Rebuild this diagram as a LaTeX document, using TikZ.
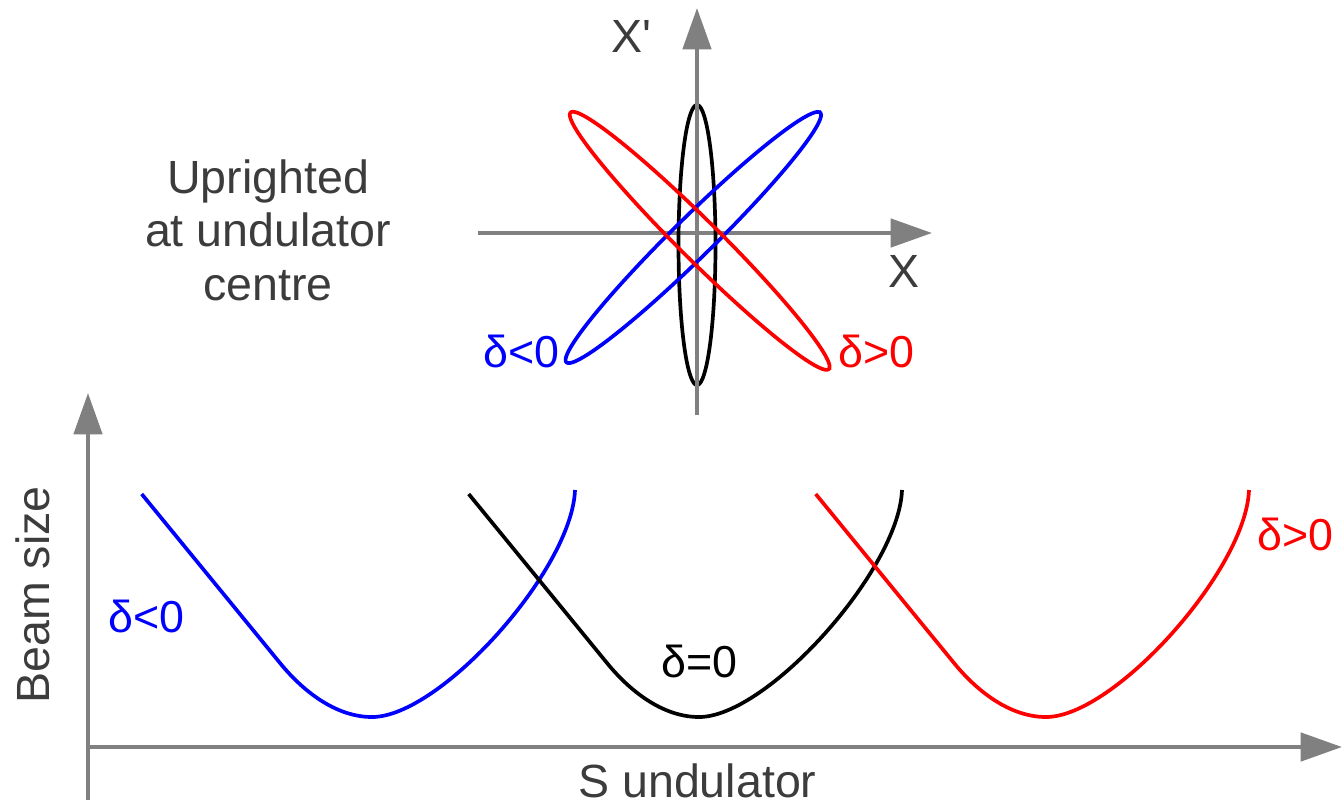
\documentclass[tikz,border=0pt]{standalone}
\usepackage{fontspec}
\setmainfont{Liberation Sans}
\usetikzlibrary{arrows.meta}
\definecolor{AxisGray}{HTML}{808080}
\definecolor{TextGray}{HTML}{3C3C3C}
\definecolor{DeltaBlue}{HTML}{0000FF}
\definecolor{DeltaRed}{HTML}{FF0000}
\tikzset{
  axisline/.style={AxisGray, line width=2.4pt, -{Triangle[length=23.5pt,width=16pt]}},
  curveline/.style={line width=2.1pt},
  lbl/.style={inner sep=0pt, text=TextGray, font=\fontsize{26.5}{30.6}\selectfont},
  dlbl/.style={inner sep=0pt, font=\fontsize{25.5}{28}\selectfont},
}
\begin{document}
\begin{tikzpicture}[x=0.02cm,y=-0.02cm]
\useasboundingbox (0,0) rectangle (1342,809);
% phase space at the undulator centre
\draw[axisline] (478,233) -- (932,233);
\draw[curveline, black] plot[domain=0:360, samples=200] ({697+18.5*cos(\x)}, {245+140*sin(\x)}) -- cycle;
\draw[axisline] (697,415) -- (697,8);
\foreach \cx/\cy/\ra/\ang/\col in {693.3/237.5/178/-44.5/DeltaBlue, 699.7/240.8/182/44.8/DeltaRed}
  \draw[curveline, \col] plot[domain=0:360, samples=240]
    ({\cx+\ra*cos(\x)*cos(\ang)-20*sin(\x)*sin(\ang)}, {\cy+\ra*cos(\x)*sin(\ang)+20*sin(\x)*cos(\ang)}) -- cycle;
\node[lbl, anchor=base west] (xp) at (611,52) {X\textquotesingle};
\node[lbl, anchor=base west] (xx) at (888,287) {X};
\node[lbl, anchor=north, align=center] (upr) at (268,159) {Uprighted\\at undulator\\centre};
\node[dlbl, anchor=base west, text=DeltaBlue] (dneg) at (483,367) {δ<0};
\node[dlbl, anchor=base west, text=DeltaRed] (dpos) at (838,367) {δ>0};
% beam size along the undulator
\draw[axisline] (88,800) -- (88,393);
\draw[axisline] (90,747) -- (1342,747);
\foreach \dx/\col in {0/DeltaBlue, 327/black, 674/DeltaRed}
  \draw[curveline, \col, shift={(\dx,0)}] (141.7,494) -- (280,663)
    .. controls (302,690) and (335,717) .. (372,717)
    .. controls (440,717) and (572,570) .. (575,490);
\node[dlbl, anchor=base west, text=DeltaBlue] (bneg) at (108,632) {δ<0};
\node[dlbl, anchor=base west, text=black] (bzero) at (661,677) {δ=0};
\node[dlbl, anchor=base west, text=DeltaRed] (bpos) at (1257,550) {δ>0};
\node[lbl, anchor=base west] (sund) at (578,797) {S undulator};
\node[lbl, anchor=base, rotate=90] (bsize) at (50,595) {Beam size};
\end{tikzpicture}
\end{document}
